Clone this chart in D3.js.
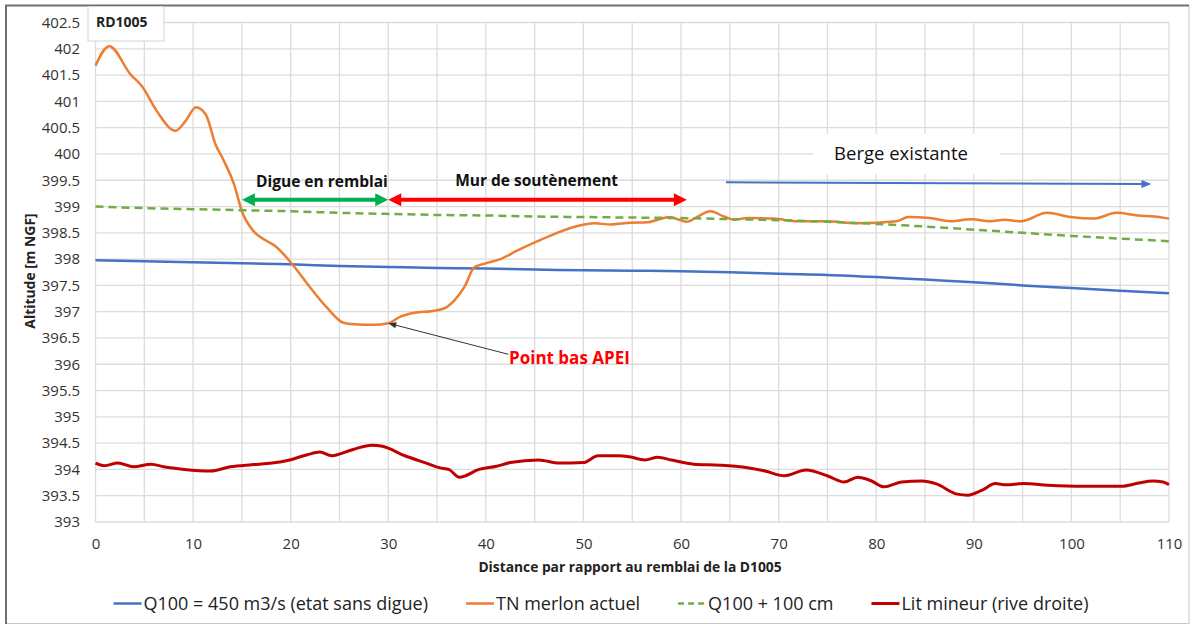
<!DOCTYPE html>
<html lang="fr">
<head>
<meta charset="utf-8">
<script src="https://cdn.jsdelivr.net/npm/d3@7/dist/d3.min.js"></script>
<style>
body{margin:0;background:#fff;}
svg{font-family:"Open Sans",sans-serif;}
</style>
</head>
<body>
<div id="chart"></div>
<script>
// Q100 = 450 m3/s (etat sans digue)
const q100X=[0,5,10,15,20,25,30,35,40,45,50,55,60,65,70,75,80,85,90,95,100,105,110]
const q100Y=[397.98,397.96,397.94,397.92,397.90,397.87,397.85,397.83,397.82,397.80,397.79,397.78,397.77,397.75,397.72,397.70,397.66,397.61,397.56,397.50,397.45,397.40,397.35]
// Q100 + 100 cm
const q100plusX=[0,5,10,15,20,25,30,35,40,45,50,55,60,65,70,75,80,85,90,95,100,105,110]
const q100plusY=[399.00,398.97,398.95,398.93,398.91,398.88,398.86,398.84,398.83,398.81,398.80,398.79,398.78,398.76,398.74,398.71,398.67,398.62,398.56,398.50,398.44,398.39,398.34]
// TN merlon actuel
const tnX=[0,1.4,3.6,4.8,6.3,8.2,9.2,10.3,11.3,12.3,13.1,14.2,15,16.2,17.6,18.4,20.3,22,23.7,25.4,26.5,28.5,30,31.3,32.7,34.4,35.7,36.8,37.8,38.8,39.8,41.5,43.2,45.3,47.3,49.4,51.1,52.8,54.8,56.6,57.6,58.8,59.8,60.6,61.7,63,64.4,65.4,66.8,69.5,71.9,74.9,78,82.1,83.3,85.5,87.6,89.7,91.7,93.1,94.8,97.5,99.9,102.3,104.6,106.8,108.5,110]
const tnY=[401.68,402.05,401.51,401.28,400.81,400.44,400.62,400.89,400.75,400.18,399.89,399.42,398.91,398.53,398.34,398.25,397.87,397.46,397.08,396.79,396.76,396.75,396.78,396.91,396.98,397.01,397.06,397.22,397.47,397.84,397.91,398.00,398.16,398.34,398.50,398.63,398.68,398.66,398.69,398.70,398.75,398.80,398.75,398.71,398.81,398.91,398.81,398.75,398.78,398.77,398.72,398.72,398.68,398.72,398.80,398.78,398.72,398.76,398.72,398.75,398.72,398.88,398.80,398.77,398.88,398.83,398.81,398.77]
// Lit mineur (rive droite)
const litX=[0,0.9,2.3,3.9,5.7,7,9.1,11.8,13.8,16,18.1,19.9,21.7,23,24.2,26.4,28.3,29.4,31.7,33.9,35.3,36.2,37.3,39.3,41.1,42.5,45.4,47.5,50,51.5,53.6,54.7,56.3,57.6,59,61.3,64,66.5,68.6,70.6,72.8,75.1,76.7,78.1,79.4,80.8,82.6,84.7,86.1,88.3,89.4,90.8,92.2,93.3,95.1,97.6,101.1,105.1,106.9,108.3,109.4,110]
const litY=[394.12,394.07,394.12,394.05,394.10,394.05,394.00,393.97,394.05,394.09,394.12,394.18,394.28,394.33,394.26,394.38,394.46,394.44,394.26,394.12,394.03,394.00,393.85,394.00,394.06,394.13,394.18,394.12,394.13,394.26,394.26,394.24,394.18,394.23,394.18,394.10,394.08,394.04,393.97,393.88,393.99,393.87,393.76,393.85,393.79,393.67,393.76,393.78,393.73,393.53,393.51,393.60,393.73,393.71,393.73,393.70,393.68,393.68,393.74,393.78,393.76,393.71]

const seriesNames=["Q100 = 450 m3/s (etat sans digue)","TN merlon actuel","Q100 + 100 cm","Lit mineur (rive droite)"]
const seriesColors=["#4472c4","#ed7d31","#70ad47","#c00000"]
const xTicks=d3.range(0,111,10)
const yTicks=d3.range(0,20).map(i=>393+i*0.5)

const W=1192,H=626
const svg=d3.select("#chart").append("svg").attr("width",W).attr("height",H)

const x=d3.scaleLinear().domain([0,110]).range([95.5,1169])
const y=d3.scaleLinear().domain([393,402.5]).range([522,22.5])

// outer frame
svg.append("rect").attr("x",6).attr("y",5.5).attr("width",1183).attr("height",618).attr("fill","#fff").attr("stroke","#c8c8c8")
svg.append("path").attr("d","M6,624V5.5H1189").attr("fill","none").attr("stroke","#6f6f6f").attr("stroke-width",2)

// grid
const grid=svg.append("g")
grid.selectAll(".vx").data(d3.range(0,111,5)).join("line")
  .attr("x1",d=>x(d)).attr("x2",d=>x(d)).attr("y1",y(393)).attr("y2",y(402.5))
  .attr("stroke","#dcdcdc").attr("stroke-width",1.3)
grid.selectAll(".hy").data(yTicks).join("line")
  .attr("x1",x(0)).attr("x2",x(110)).attr("y1",d=>y(d)).attr("y2",d=>y(d))
  .attr("stroke","#dcdcdc").attr("stroke-width",1.3)

// axes labels
const xAxis=svg.append("g").attr("transform",`translate(0,${y(393)})`)
  .call(d3.axisBottom(x).tickValues(xTicks).tickSize(0).tickPadding(16))
xAxis.select(".domain").remove()
xAxis.selectAll("text").attr("font-size",15).attr("fill","#333").attr("font-family","Open Sans")
const yAxis=svg.append("g").attr("transform",`translate(${x(0)},0)`)
  .call(d3.axisLeft(y).tickValues(yTicks).tickSize(0).tickPadding(15.5).tickFormat(d=>String(+d.toFixed(1))))
yAxis.select(".domain").remove()
yAxis.selectAll("text").attr("font-size",15).attr("fill","#333").attr("font-family","Open Sans")

svg.append("text").attr("transform","translate(35,271) rotate(-90)").attr("text-anchor","middle")
  .attr("font-size",13.9).attr("font-weight","bold").attr("fill","#222").text("Altitude [m NGF]")
svg.append("text").attr("x",630).attr("y",572).attr("text-anchor","middle")
  .attr("font-size",13.8).attr("font-weight","bold").attr("fill","#222").text("Distance par rapport au remblai de la D1005")

// series
const line=d3.line().x(d=>x(d[0])).y(d=>y(d[1])).curve(d3.curveMonotoneX)
const zip=(a,b)=>a.map((v,i)=>[v,b[i]])
const series=[zip(q100X,q100Y),zip(tnX,tnY),zip(q100plusX,q100plusY),zip(litX,litY)]
const widths=[2.5,2.5,2.5,3]
series.forEach((s,i)=>{
  svg.append("path").datum(s).attr("d",line).attr("fill","none")
    .attr("stroke",seriesColors[i]).attr("stroke-width",widths[i])
    .attr("stroke-dasharray",i==2?"8,5":null).attr("stroke-linejoin","round")
})

// title box
svg.append("rect").attr("x",88).attr("y",6.5).attr("width",76).attr("height",34.5).attr("fill","#fff").attr("stroke","#d4d4d4")
svg.append("text").attr("x",96).attr("y",27).attr("font-size",14).attr("font-weight","bold").attr("fill","#222").text("RD1005")

// annotations
function dblArrow(x1,x2,yv,col,hl,hw,sw){
  const px1=x(x1),px2=x(x2),py=y(yv)
  svg.append("line").attr("x1",px1+hl-1).attr("x2",px2-hl+1).attr("y1",py).attr("y2",py).attr("stroke",col).attr("stroke-width",sw)
  svg.append("path").attr("d",`M${px1},${py}L${px1+hl},${py-hw/2}L${px1+hl},${py+hw/2}Z`).attr("fill",col)
  svg.append("path").attr("d",`M${px2},${py}L${px2-hl},${py-hw/2}L${px2-hl},${py+hw/2}Z`).attr("fill",col)
}
function arrow(xa,ya,xb,yb,col,hl,hw,sw){
  const p1=[x(xa),y(ya)],p2=[x(xb),y(yb)]
  const dx=p2[0]-p1[0],dy=p2[1]-p1[1],L=Math.hypot(dx,dy),ux=dx/L,uy=dy/L
  const bx=p2[0]-ux*hl,by=p2[1]-uy*hl
  svg.append("line").attr("x1",p1[0]).attr("y1",p1[1]).attr("x2",bx+ux).attr("y2",by+uy).attr("stroke",col).attr("stroke-width",sw)
  svg.append("path").attr("d",`M${p2[0]},${p2[1]}L${bx-uy*hw/2},${by+ux*hw/2}L${bx+uy*hw/2},${by-ux*hw/2}Z`).attr("fill",col)
}
dblArrow(15,30,399.13,"#00b050",13,13,4)
dblArrow(30,60.6,399.13,"#ff0000",13,13,4)
svg.append("text").attr("x",x(23.2)).attr("y",187).attr("text-anchor","middle").attr("font-size",15.5).attr("font-weight","bold").attr("fill","#111").text("Digue en remblai")
svg.append("text").attr("x",x(45.2)).attr("y",186).attr("text-anchor","middle").attr("font-size",15.5).attr("font-weight","bold").attr("fill","#111").text("Mur de soutènement")

svg.append("rect").attr("x",813).attr("y",134).attr("width",187).attr("height",40).attr("fill","#fff")
svg.append("text").attr("x",901).attr("y",159.5).attr("text-anchor","middle").attr("font-size",18.5).attr("fill","#111").text("Berge existante")
arrow(64.6,399.46,108.2,399.43,"#4472c4",10,8,2)

arrow(42.3,396.19,30,396.78,"#333",8,6,1)
svg.append("text").attr("x",509).attr("y",364).attr("font-size",17).attr("font-weight","bold").attr("fill","#ff0000").text("Point bas APEI")

// legend
const leg=svg.append("g")
let cx=0
const items=seriesNames.map((n,i)=>{
  const g=leg.append("g")
  g.append("line").attr("x1",0).attr("x2",28).attr("y1",603.5).attr("y2",603.5).attr("stroke",seriesColors[i])
    .attr("stroke-width",i==3?3:2.5).attr("stroke-dasharray",i==2?"6,4":null)
  const t=g.append("text").attr("x",30).attr("y",610).attr("font-size",18).attr("fill","#222").text(n)
  const w=30+t.node().getComputedTextLength()
  g.attr("transform",`translate(${cx},0)`)
  cx+=w+38
  return g
})
const total=cx-38
leg.attr("transform",`translate(${601-total/2},0)`)
</script>
</body>
</html>
